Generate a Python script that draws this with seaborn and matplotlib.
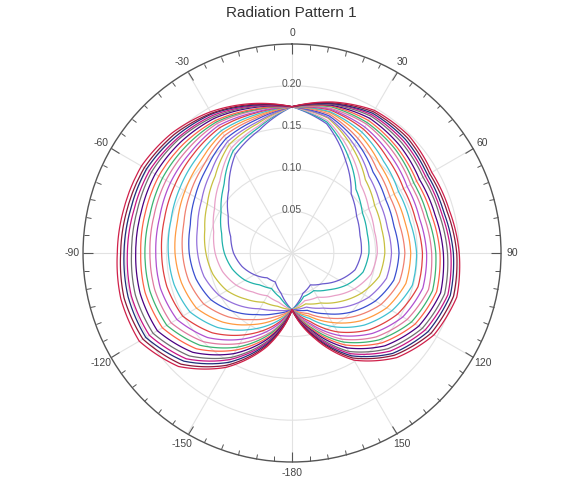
import numpy as np
import pandas as pd
import seaborn as sns
import matplotlib.pyplot as plt

# angles in degrees, clockwise from north
angles = [-180, -165, -150, -135, -120, -105, -90, -75, -60, -45, -30, -15,
          0, 15, 30, 45, 60, 75, 90, 105, 120, 135, 150, 165, 180]

# radial values, innermost curve first
curve_01 = [.068, .050, .040, .042, .052, .062, .070, .076, .088, .107, .136, .152, .175,
            .160, .128, .100, .089, .084, .083, .078, .065, .052, .044, .050, .068]
curve_02 = [.068, .055, .049, .054, .065, .074, .081, .087, .098, .115, .141, .155, .175,
            .162, .134, .108, .097, .093, .092, .088, .076, .062, .052, .054, .068]
curve_03 = [.068, .061, .059, .066, .077, .086, .092, .097, .107, .122, .145, .157, .175,
            .164, .139, .116, .106, .102, .102, .098, .086, .072, .061, .059, .068]
curve_04 = [.068, .066, .068, .078, .090, .098, .103, .108, .117, .130, .150, .160, .175,
            .167, .145, .124, .114, .111, .111, .108, .096, .082, .069, .063, .068]
curve_05 = [.068, .071, .077, .089, .101, .109, .113, .117, .125, .137, .154, .162, .175,
            .168, .149, .130, .121, .118, .119, .117, .106, .091, .076, .067, .068]
curve_06 = [.068, .075, .085, .099, .112, .119, .123, .126, .134, .144, .158, .165, .175,
            .170, .154, .137, .129, .126, .128, .126, .115, .100, .084, .071, .068]
curve_07 = [.068, .079, .092, .108, .122, .128, .131, .134, .141, .149, .162, .167, .175,
            .172, .158, .143, .135, .133, .135, .133, .123, .107, .090, .075, .068]
curve_08 = [.068, .083, .099, .117, .132, .137, .140, .142, .148, .155, .166, .169, .175,
            .174, .163, .149, .141, .140, .142, .141, .131, .115, .096, .078, .068]
curve_09 = [.068, .087, .106, .126, .141, .146, .148, .150, .155, .161, .169, .171, .175,
            .175, .167, .155, .147, .146, .149, .149, .138, .122, .102, .081, .068]
curve_10 = [.068, .091, .113, .135, .151, .155, .156, .158, .162, .167, .173, .173, .175,
            .177, .171, .161, .154, .153, .156, .156, .146, .130, .109, .085, .068]
curve_11 = [.068, .094, .119, .143, .159, .163, .163, .164, .168, .171, .176, .174, .175,
            .178, .174, .166, .159, .158, .161, .162, .153, .136, .114, .088, .068]
curve_12 = [.068, .098, .125, .150, .167, .170, .170, .171, .174, .176, .179, .176, .175,
            .179, .178, .171, .164, .164, .167, .169, .159, .142, .119, .090, .068]
curve_13 = [.068, .100, .130, .156, .173, .176, .176, .176, .179, .180, .181, .177, .175,
            .181, .180, .175, .168, .168, .172, .174, .165, .147, .123, .093, .068]
curve_14 = [.068, .103, .134, .162, .179, .182, .181, .182, .184, .184, .183, .178, .175,
            .182, .183, .178, .172, .173, .177, .179, .170, .152, .127, .095, .068]
curve_15 = [.068, .105, .139, .168, .186, .188, .187, .187, .189, .188, .186, .180, .175,
            .183, .186, .182, .176, .177, .181, .184, .175, .157, .131, .097, .068]
curve_16 = [.068, .108, .144, .174, .192, .194, .192, .192, .194, .192, .188, .181, .175,
            .184, .189, .186, .181, .182, .186, .189, .180, .162, .136, .099, .068]
curve_17 = [.068, .110, .147, .179, .197, .199, .197, .196, .197, .194, .190, .182, .175,
            .185, .191, .189, .184, .185, .190, .193, .184, .166, .139, .101, .068]
curve_18 = [.068, .112, .151, .183, .202, .203, .201, .200, .201, .197, .192, .183, .175,
            .185, .193, .192, .187, .188, .193, .196, .188, .170, .142, .103, .068]
curve_19 = [.068, .114, .155, .188, .206, .208, .205, .204, .204, .200, .193, .184, .175,
            .186, .195, .195, .190, .192, .197, .200, .192, .173, .145, .104, .068]
curve_20 = [.068, .116, .158, .192, .211, .212, .209, .208, .208, .203, .195, .185, .175,
            .187, .197, .198, .193, .195, .200, .204, .196, .177, .148, .106, .068]

curves = [curve_01, curve_02, curve_03, curve_04, curve_05, curve_06, curve_07,
          curve_08, curve_09, curve_10, curve_11, curve_12, curve_13, curve_14,
          curve_15, curve_16, curve_17, curve_18, curve_19, curve_20]

colors = ['#6a5acd', '#20b2aa', '#e8a0c8', '#c8c040', '#9370db', '#3a4fd0',
          '#f08070', '#ff9a40', '#40c0d0', '#e04040', '#b050d0', '#e07aa0',
          '#3cb371', '#ff6347', '#4b0082', '#707070', '#c71585', '#1f2f7a',
          '#8b1a3a', '#d0204a']

r_ticks = [0.05, 0.10, 0.15, 0.20]
theta_ticks = [0, 30, 60, 90, 120, 150, 180, 210, 240, 270, 300, 330]
theta_labels = ['0', '30', '60', '90', '120', '150', '-180', '-150', '-120', '-90', '-60', '-30']

rows = []
for i, c in enumerate(curves):
    for a, r in zip(angles, c):
        rows.append({'curve': f'c{i + 1:02d}', 'theta': np.deg2rad(a), 'r': r})
df = pd.DataFrame(rows)

fig = plt.figure(figsize=(5.73, 4.83), dpi=100)
ax = fig.add_axes([0.1449, 0.0435, 0.7295, 0.8654], projection='polar')
ax.set_theta_zero_location('N')
ax.set_theta_direction(-1)

sns.lineplot(data=df, x='theta', y='r', hue='curve', palette=colors, sort=False,
             estimator=None, legend=False, lw=0.9, ax=ax)

# let the polar transform draw each segment as an arc instead of a chord
for line in ax.lines:
    line.get_path()._interpolation_steps = 24

ax.set_ylim(0, 0.25)
ax.set_yticks(r_ticks)
ax.set_yticklabels([])
for r in r_ticks:
    ax.text(0, r + 0.002, f'{r:.2f}', ha='center', va='center', fontsize=7.5,
            color='#555555', family='Liberation Sans')

ax.set_xticks(np.deg2rad(theta_ticks))
ax.set_xticklabels(theta_labels, fontsize=7.5, color='#444444', family='Liberation Sans')
ax.set_xticks(np.deg2rad(np.arange(0, 360, 5)), minor=True)
ax.xaxis.set_tick_params(which='both', tick1On=False, tick2On=True)
ax.tick_params(axis='x', which='major', direction='in', length=7, width=0.8,
               color='#555555', pad=1)
ax.tick_params(axis='x', which='minor', direction='in', length=3.5, width=0.7,
               color='#555555')
ax.grid(True, color='#e2e2e2', lw=0.8)
ax.spines['polar'].set_color('#555555')
ax.spines['polar'].set_linewidth(1.0)
ax.set_xlabel('')
ax.set_ylabel('')

fig.text(0.508, 1 - 13 / 483, 'Radiation Pattern 1', ha='center', va='center',
         fontsize=11, color='#333333', family='Liberation Sans')

fig.savefig('out.png', dpi=100)
